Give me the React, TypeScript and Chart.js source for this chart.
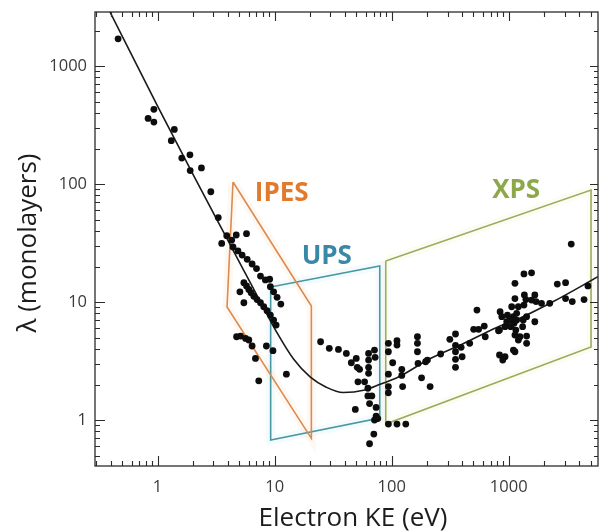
import { useEffect, useRef } from 'react';
import { Chart, registerables } from 'chart.js';

Chart.register(...registerables);

// Measured inelastic mean free path: electron kinetic energy (eV) and λ (monolayers)
const electronKE = [
  0.46, 0.93, 0.83, 0.93, 1.39, 1.31, 1.89, 1.61, 2.37, 1.9, 2.85, 3.3, 3.53, 3.9, 4.7, 5.75, 4.3,
  4.41, 4.86, 5.28, 5.83, 6.42, 7.0, 7.57, 8.34, 9.07, 9.2, 9.81, 10.5, 11.3,
  5.46, 5.75, 6.02, 6.3, 6.64, 7.08, 7.57, 8.07, 8.61, 9.2, 9.81, 10.3,
  5.05, 5.46, 4.73, 5.12, 5.65, 6.02, 6.42, 6.86, 7.32, 8.5, 9.68, 12.6, 24.7, 29.3, 35.1,
  41, 45.2, 49.8, 50.8, 53.2, 63.5, 63.5, 71.3, 72.2, 63.5, 63.5, 51.5, 58.7, 62.6, 62.6, 67.7,
  64.7, 73.6, 48.9, 73.6, 71.3, 76.1, 70.4, 64.7,
  93.7, 93.7, 111, 111, 102, 93.7, 93.7, 93.7, 122, 122, 124, 166, 166, 166, 168, 180, 195,
  93.7, 111, 132, 202,
  213, 262, 314, 351, 351, 351, 351, 351, 392, 400, 464, 535, 502, 553, 618, 630, 818, 834, 930,
  844, 873, 834, 930, 962, 975, 1026, 1040, 1060, 1096, 1110, 1130, 1130, 1150, 1169, 1169, 1208,
  1208, 1247, 1314, 1330, 1349, 1402, 1422, 1422, 1422, 1567, 1671, 1360, 1671, 1710, 889, 1096,
  1130, 1130, 1349, 1567, 1905, 2240, 2600, 3060, 3060, 3490, 4400, 4750, 3420,
];
const imfpMonolayers = [
  1700, 430, 360, 335, 290, 233, 177, 166, 137, 130, 86, 52, 31.4, 36.5, 37, 38, 33.5,
  29.3, 27.1, 25.0, 23.0, 21.0, 19.2, 16.6, 15.4, 15.6, 13.5, 12.2, 10.96, 9.62,
  14.6, 13.7, 12.8, 12.0, 11.2, 10.5, 9.86, 9.12, 8.44, 7.76, 7.04, 6.38,
  12.2, 9.86, 5.08, 5.15, 4.92, 4.77, 4.24, 3.33, 2.15, 4.24, 3.87, 2.45, 4.61, 4.05, 3.97,
  3.67, 3.06, 3.33, 2.8, 2.69, 3.67, 3.22, 3.92, 3.4, 2.8, 2.49, 2.11, 2.11, 1.86, 1.6, 1.6,
  1.38, 1.28, 1.23, 1.08, 1.0, 1.03, 0.76, 0.63,
  4.47, 3.79, 4.7, 4.32, 3.06, 2.45, 1.92, 1.7, 2.69, 2.39, 1.92, 5.08, 4.47, 3.79, 3.02, 2.28, 3.12,
  0.925, 0.925, 0.925, 3.22,
  1.92, 3.63, 4.83, 5.36, 4.3, 3.79, 3.27, 2.8, 4.13, 3.44, 4.47, 8.55, 5.87, 5.87, 6.26, 5.08, 5.71, 3.56, 3.44,
  8.28, 7.51, 5.79, 6.18, 6.81, 7.76, 7.04, 6.18, 9.12, 7.51, 6.6, 10.7, 5.25, 5.79, 7.04, 8.02, 9.12,
  4.76, 5.08, 6.18, 7.04, 9.43, 10.5, 7.51, 5.15, 4.47, 10.4, 11.5, 11.5, 6.81, 10.1, 3.22, 3.92,
  3.79, 14.4, 17.3, 17.7, 9.75, 9.75, 14.2, 14.6, 10.7, 10.1, 10.5, 13.7, 31,
];

// Universal curve drawn through the measurements
const curveKE = [0.392, 1, 2.06, 3.92, 5.46, 7.61, 10.4, 14.5, 20.2, 27.6, 38.4, 59, 80.7, 112, 214, 415, 791, 1240, 2405, 5790];
const curveImfp = [2870, 458, 115, 34.4, 18.5, 9.9, 5.57, 3.29, 2.31, 1.9, 1.71, 1.8, 2.02, 2.29, 3.32, 4.47, 6.08, 7.28, 10.1, 16.4];

// Probing windows of the spectroscopies (closed outlines)
const ipesKE = [4.41, 20.6, 20.6, 3.92, 4.41];
const ipesImfp = [104, 9.25, 0.7, 9.07, 104];
const upsKE = [9.25, 79.1, 79.1, 9.25, 9.25];
const upsImfp = [13.4, 20.2, 1.04, 0.677, 13.4];
const xpsKE = [89, 5050, 5050, 89, 89];
const xpsImfp = [22.3, 89, 4.16, 0.925, 22.3];

const regionNames = ['IPES', 'UPS', 'XPS'];
const regionTextColors = ['#E27A2C', '#3A88A8', '#8CA84A'];
const regionLineColors = ['#DD8A4E', '#4A97A3', '#9BAC5C'];
const regionGlowColors = ['rgba(240,160,90,0.07)', 'rgba(110,200,225,0.08)', 'rgba(220,228,140,0.1)'];
const regionTextKE = [11.5, 27.9, 1158];
const regionTextImfp = [83, 24.1, 87.3];

const tickLabels = ['1', '10', '100', '1000'];
const xTitle = 'Electron KE (eV)';
const yTitle = 'λ (monolayers)';

const X_MIN = 0.292;
const X_MAX = 5790;
const Y_MIN = 0.408;
const Y_MAX = 2870;

const toPoints = (xs: number[], ys: number[]) => xs.map((x, i) => ({ x, y: ys[i] }));

const labelFor = (v: number) => {
  const s = String(Math.round(v));
  return Math.abs(v - Math.round(v)) < 1e-9 && tickLabels.includes(s) ? s : '';
};

const logTicks = (min: number, max: number) => {
  const out: { v: number; major: boolean }[] = [];
  for (let p = Math.floor(Math.log10(min)); p <= Math.ceil(Math.log10(max)); p++) {
    for (let k = 1; k <= 9; k++) {
      const v = k * Math.pow(10, p);
      if (v >= min && v <= max) out.push({ v, major: k === 1 });
    }
  }
  return out;
};

const zeroPadding = (s: any) => {
  s.paddingTop = 0;
  s.paddingBottom = 0;
  s.paddingLeft = 0;
  s.paddingRight = 0;
};

const decorPlugin = {
  id: 'decor',
  afterDatasetsDraw(chart: any) {
    const { ctx, chartArea: a, scales } = chart;
    const xs = scales.x;
    const ys = scales.y;
    ctx.save();

    // region captions
    ctx.font = 'bold 26px "Open Sans"';
    ctx.textAlign = 'center';
    ctx.textBaseline = 'middle';
    regionNames.forEach((name, i) => {
      ctx.fillStyle = regionTextColors[i];
      ctx.fillText(name, xs.getPixelForValue(regionTextKE[i]), ys.getPixelForValue(regionTextImfp[i]));
    });

    // frame
    ctx.strokeStyle = '#2b2b2b';
    ctx.lineWidth = 1.3;
    ctx.strokeRect(a.left, a.top, a.right - a.left, a.bottom - a.top);

    // inward tick marks on all four sides
    ctx.lineWidth = 1.1;
    ctx.beginPath();
    logTicks(X_MIN, X_MAX).forEach(({ v, major }) => {
      const px = Math.round(xs.getPixelForValue(v)) + 0.5;
      const len = major ? 10 : 5;
      ctx.moveTo(px, a.bottom);
      ctx.lineTo(px, a.bottom - len);
      ctx.moveTo(px, a.top);
      ctx.lineTo(px, a.top + (major ? 9 : 5));
    });
    logTicks(Y_MIN, Y_MAX).forEach(({ v, major }) => {
      const py = Math.round(ys.getPixelForValue(v)) + 0.5;
      const len = major ? 10 : 5;
      ctx.moveTo(a.left, py);
      ctx.lineTo(a.left + len, py);
      ctx.moveTo(a.right, py);
      ctx.lineTo(a.right - (major ? 8 : 4), py);
    });
    ctx.stroke();

    // axis titles
    ctx.fillStyle = '#1c1c1c';
    ctx.font = '26px "Open Sans"';
    ctx.textAlign = 'center';
    ctx.textBaseline = 'middle';
    ctx.fillText(xTitle, (a.left + a.right) / 2 + 6.5, a.bottom + 53);
    ctx.save();
    ctx.translate(a.left - 66, (a.top + a.bottom) / 2 + 4);
    ctx.rotate(-Math.PI / 2);
    ctx.fillText(yTitle, 0, 0);
    ctx.restore();

    ctx.restore();
  },
};

export default function App() {
  const canvasRef = useRef<HTMLCanvasElement | null>(null);

  useEffect(() => {
    const canvas = canvasRef.current;
    if (!canvas) return;

    const regionSets = [
      toPoints(ipesKE, ipesImfp),
      toPoints(upsKE, upsImfp),
      toPoints(xpsKE, xpsImfp),
    ];

    const datasets: any[] = [
      {
        label: 'measured',
        data: toPoints(electronKE, imfpMonolayers),
        pointRadius: 3.4,
        pointBackgroundColor: '#0d0d0d',
        pointBorderWidth: 0,
        showLine: false,
        order: 0,
      },
      {
        label: 'universal curve',
        data: toPoints(curveKE, curveImfp),
        showLine: true,
        pointRadius: 0,
        borderColor: '#1a1a1a',
        borderWidth: 1.6,
        cubicInterpolationMode: 'monotone',
        order: 1,
      },
    ];
    regionSets.forEach((pts, i) => {
      datasets.push({
        label: regionNames[i],
        data: pts,
        showLine: true,
        pointRadius: 0,
        borderColor: regionLineColors[i],
        borderWidth: 1.6,
        tension: 0,
        order: 2,
      });
      datasets.push({
        label: regionNames[i] + ' glow',
        data: pts,
        showLine: true,
        pointRadius: 0,
        borderColor: regionGlowColors[i],
        borderWidth: 9,
        tension: 0,
        order: 3,
      });
    });

    const tickFont = { family: '"Open Sans"', size: 16.5 };

    const chart = new Chart(canvas, {
      type: 'scatter',
      data: { datasets },
      plugins: [decorPlugin],
      options: {
        animation: false,
        responsive: false,
        devicePixelRatio: 1,
        layout: { padding: { top: 12, right: 0, left: 0, bottom: 0 } },
        plugins: { legend: { display: false }, tooltip: { enabled: false } },
        scales: {
          x: {
            type: 'logarithmic',
            min: X_MIN,
            max: X_MAX,
            grid: { display: false, drawTicks: false },
            border: { display: false },
            ticks: {
              autoSkip: false,
              maxRotation: 0,
              minRotation: 0,
              padding: 11,
              color: '#3a3a3a',
              font: tickFont,
              callback: (v: any) => labelFor(Number(v)),
            },
            afterFit: (s: any) => {
              s.height = 65;
              zeroPadding(s);
            },
          },
          y: {
            type: 'logarithmic',
            min: Y_MIN,
            max: Y_MAX,
            grid: { display: false, drawTicks: false },
            border: { display: false },
            ticks: {
              autoSkip: false,
              padding: 8,
              color: '#3a3a3a',
              font: tickFont,
              callback: (v: any) => labelFor(Number(v)),
            },
            afterFit: (s: any) => {
              s.width = 95;
              zeroPadding(s);
            },
          },
        },
      },
    });

    return () => chart.destroy();
  }, []);

  return (
    <div style={{ position: 'fixed', left: 0, top: 0, width: 602, height: 531, background: '#fff', overflow: 'hidden' }}>
      <canvas ref={canvasRef} width={602} height={531} style={{ display: 'block' }} />
    </div>
  );
}
